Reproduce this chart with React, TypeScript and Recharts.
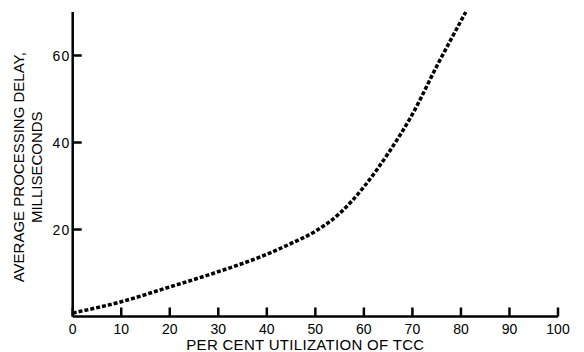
import { LineChart, Line, XAxis, YAxis } from 'recharts';

// per cent utilization of TCC
const utilization = [0, 10, 20, 30, 40, 45, 50, 55, 60, 65, 70, 75, 81];
// average processing delay, milliseconds
const delayMs = [0.8, 3.4, 6.8, 10.3, 14.3, 16.8, 19.6, 23.7, 29.8, 37.5, 46.5, 57.5, 70];

const xTicks = [0, 10, 20, 30, 40, 50, 60, 70, 80, 90, 100];
const yTicks = [20, 40, 60];

const data = utilization.map((u, i) => ({ u, delay: delayMs[i] }));

const FONT = '"Liberation Sans", Arial, Helvetica, sans-serif';
const TICK_LEN = 9;

// ticks point inward, into the plot
function XTick(props: any) {
  const { x, y, payload } = props;
  return (
    <g>
      <line x1={x} x2={x} y1={y} y2={y - TICK_LEN} stroke="#000" strokeWidth={2.5} />
      <text x={x} y={y + 17} textAnchor="middle" fontFamily={FONT} fontSize={14} fill="#000">
        {payload.value}
      </text>
    </g>
  );
}

function YTick(props: any) {
  const { x, y, payload } = props;
  return (
    <g>
      <line x1={x} x2={x + TICK_LEN} y1={y} y2={y} stroke="#000" strokeWidth={2.5} />
      <text
        x={x - 2.5}
        y={y}
        textAnchor="end"
        dominantBaseline="central"
        fontFamily={FONT}
        fontSize={14}
        letterSpacing={1}
        fill="#000"
      >
        {payload.value}
      </text>
    </g>
  );
}

function YLabel(props: any) {
  const { viewBox } = props;
  const cy = viewBox.y + viewBox.height / 2 + 3;
  return (
    <g fontFamily={FONT} fontSize={15} fill="#000">
      <text x={18} y={cy} transform={`rotate(-90 18 ${cy})`} textAnchor="middle" dominantBaseline="central">
        AVERAGE PROCESSING DELAY,
      </text>
      <text x={36} y={cy} transform={`rotate(-90 36 ${cy})`} textAnchor="middle" dominantBaseline="central">
        MILLISECONDS
      </text>
    </g>
  );
}

function XLabel(props: any) {
  const { viewBox } = props;
  const cx = viewBox.x + viewBox.width / 2 - 10;
  return (
    <text
      x={cx}
      y={viewBox.y + viewBox.height - 2}
      textAnchor="middle"
      fontFamily={FONT}
      fontSize={15}
      letterSpacing={0.3}
      fill="#000"
    >
      PER CENT UTILIZATION OF TCC
    </text>
  );
}

export default function App() {
  return (
    <div style={{ position: 'absolute', left: 0, top: 0, background: '#fff' }}>
      <LineChart width={584} height={352} data={data} margin={{ top: 12, right: 26, left: 0, bottom: 0 }}>
        <XAxis
          dataKey="u"
          type="number"
          domain={[0, 100]}
          ticks={xTicks}
          height={35.5}
          axisLine={{ stroke: '#000', strokeWidth: 2.5 }}
          tickLine={false}
          tickSize={0}
          tickMargin={0}
          tick={<XTick />}
          label={{ content: XLabel }}
        />
        <YAxis
          type="number"
          domain={[0, 70]}
          ticks={yTicks}
          width={72.7}
          axisLine={{ stroke: '#000', strokeWidth: 2.5 }}
          tickLine={false}
          tickSize={0}
          tickMargin={0}
          tick={<YTick />}
          label={{ content: YLabel }}
        />
        <Line
          type="monotone"
          dataKey="delay"
          stroke="#000"
          strokeWidth={3.5}
          strokeDasharray="4 2"
          dot={false}
          activeDot={false}
          isAnimationActive={false}
        />
      </LineChart>
    </div>
  );
}
